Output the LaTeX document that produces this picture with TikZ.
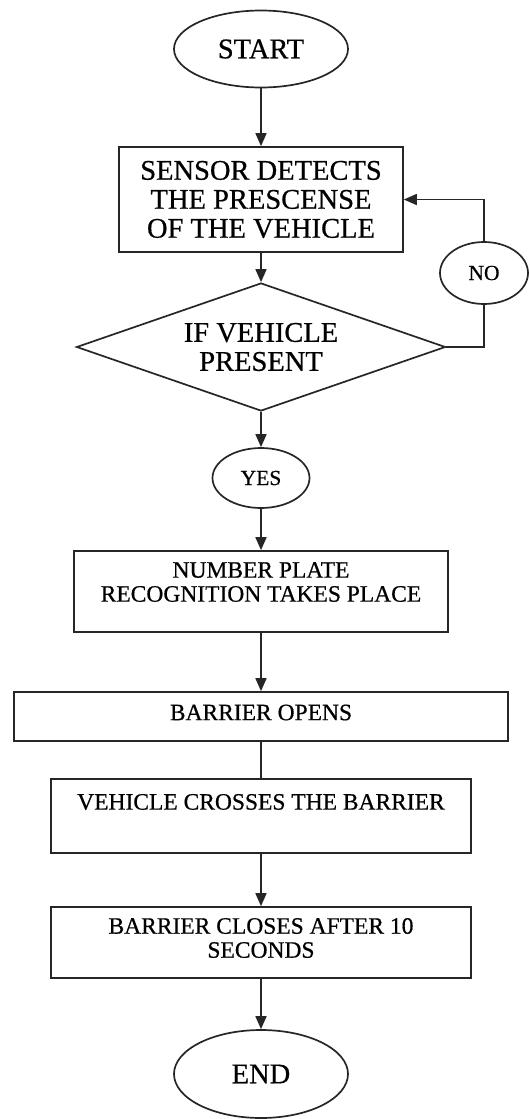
\documentclass[tikz,border=0pt]{standalone}
\usepackage{fontspec}
\setmainfont[FakeBold=0.6]{Liberation Serif}
\usetikzlibrary{shapes.geometric, arrows.meta}

\begin{document}
\begin{tikzpicture}[x=1pt, y=-1pt, line width=1.7pt, draw=black!85,
    oval/.style={draw, ellipse, inner sep=0pt},
    stepbox/.style={draw, rectangle, inner sep=0pt},
    flow/.style={-{Triangle[length=13pt, width=11pt]}},
    big/.style={font=\fontsize{28.5}{29}\selectfont},
    mid/.style={font=\fontsize{23.5}{24}\selectfont},
    small/.style={font=\fontsize{21.5}{22}\selectfont}]
    \useasboundingbox (0, 0) rectangle (530, 1119);

    \node[oval, big, minimum width=174pt, minimum height=77pt] (start) at (261, 49) {START};
    \node[stepbox, big, align=center, minimum width=284pt, minimum height=105pt] (sense) at (261, 199.5) {SENSOR DETECTS\\THE PRESCENSE\\OF THE VEHICLE};
    \node[draw, diamond, aspect=2.88, inner sep=0pt, big, align=center,
          minimum width=369pt, minimum height=128pt] (check) at (261, 347) {IF VEHICLE\\PRESENT};
    \node[oval, small, minimum width=88pt, minimum height=62pt] (no) at (484, 273) {NO};
    \node[oval, small, minimum width=97pt, minimum height=60pt] (yes) at (261, 478) {YES};
    \node[stepbox, minimum width=374pt, minimum height=81pt,
          label={[mid, align=center, yshift=9.5pt]center:NUMBER PLATE\\RECOGNITION TAKES PLACE}] (plate) at (261, 591.5) {};
    \node[stepbox, minimum width=494pt, minimum height=49pt,
          label={[mid, yshift=4pt]center:BARRIER OPENS}] (opens) at (261, 716.5) {};
    \node[stepbox, minimum width=420pt, minimum height=74pt,
          label={[mid, yshift=14pt]center:VEHICLE CROSSES THE BARRIER}] (cross) at (261, 816) {};
    \node[stepbox, minimum width=420pt, minimum height=71pt,
          label={[mid, align=center, yshift=4.5pt]center:BARRIER CLOSES AFTER 10\\SECONDS}] (closes) at (261, 942.5) {};
    \node[oval, big, minimum width=174pt, minimum height=88pt] (stop) at (261, 1074) {END};

    \draw[flow] (start) -- (sense);
    \draw[flow] (sense) -- (check);
    \draw (check.east) -| (no); % no branch
    \draw[flow] (no) |- (sense.east);
    \draw[flow] (check) -- (yes); % yes branch
    \draw[flow] (yes) -- (plate);
    \draw[flow] (plate) -- (opens);
    \draw (opens) -- (cross);
    \draw[flow] (cross) -- (closes);
    \draw[flow] (closes) -- (stop);
\end{tikzpicture}
\end{document}
